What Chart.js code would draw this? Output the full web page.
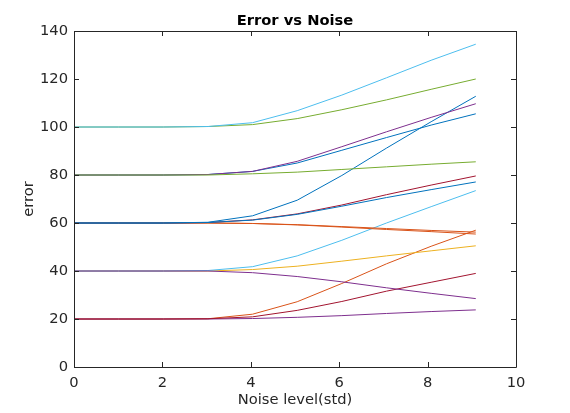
<!DOCTYPE html>
<html>
<head>
<meta charset="utf-8">
<script src="https://cdn.jsdelivr.net/npm/chart.js@4"></script>
<style>
  html, body { margin: 0; padding: 0; background: #fff; }
  #grafico { display: block; }
</style>
</head>
<body>
<canvas id="grafico" width="570" height="413"></canvas>
<script>
// x positions (noise std)
const noiseLevels = [0, 1.01, 2.02, 3.03, 4.04, 5.05, 6.06, 7.07, 8.08, 9.09];

// error curves
const lightBlue100 = [100, 100, 100, 100.2, 101.8, 106.8, 113.3, 120.5, 127.8, 134.5];
const green100     = [100, 100, 100, 100.2, 101, 103.5, 107.2, 111.3, 115.7, 120];
const purple80     = [80, 80, 80, 80.2, 81.5, 85.7, 91.8, 98, 104, 109.7];
const blue80       = [80, 80, 80, 80.2, 81.5, 85, 90.3, 95.6, 100.8, 105.5];
const green80      = [80, 80, 80, 80, 80.5, 81.2, 82.3, 83.4, 84.5, 85.5];
const blueSteep60  = [60, 60, 60, 60.3, 63, 69.5, 79.8, 91.2, 102.2, 112.8];
const darkRed60    = [60, 60, 60, 60.2, 61.3, 63.8, 67.5, 71.8, 75.8, 79.6];
const blue60       = [60, 60, 60, 60.2, 61.2, 63.6, 67, 70.6, 73.9, 77.1];
const orangeA60    = [60, 60, 60, 60, 59.8, 59.3, 58.5, 57.7, 56.9, 56.2];
const orangeB60    = [60, 60, 60, 60, 59.8, 59.2, 58.3, 57.3, 56.4, 55.4];
const lightBlue40  = [40, 40, 40, 40.2, 41.8, 46.3, 52.8, 60, 66.8, 73.5];
const yellow40     = [40, 40, 40, 40, 40.6, 42, 44.1, 46.3, 48.4, 50.5];
const purple40     = [40, 40, 40, 40, 39.3, 37.7, 35.5, 33, 30.7, 28.5];
const orange20     = [20, 20, 20, 20.1, 22, 27.2, 34.8, 43, 50.3, 57];
const darkRed20    = [20, 20, 20, 20.1, 20.9, 23.6, 27.3, 31.6, 35.3, 39];
const purple20     = [20, 20, 20, 20, 20.2, 20.7, 21.4, 22.3, 23.1, 23.8];

const xTicks = [0, 2, 4, 6, 8, 10];
const yTicks = [0, 20, 40, 60, 80, 100, 120, 140];

// cores padrão do matlab
const azul = '#0072BD', laranja = '#D95319', amarelo = '#EDB120', roxo = '#7E2F8E',
      verde = '#77AC30', azulClaro = '#4DBEEE', vinho = '#A2142F';

// first entry ends up on top (chart.js draws index 0 last)
const series = [
  [lightBlue100, azulClaro], [green100, verde],
  [green80, verde], [purple80, roxo], [blue80, azul],
  [blue60, azul], [blueSteep60, azul], [darkRed60, vinho], [orangeA60, laranja], [orangeB60, laranja],
  [purple40, roxo], [lightBlue40, azulClaro], [yellow40, amarelo],
  [darkRed20, vinho], [purple20, roxo], [orange20, laranja]
];

const textColor = '#262626';
const fonte = 'DejaVu Sans';
const tamanho = 14.7;

// box + inward ticks + title, like matlab
const caixaPlugin = {
  id: 'caixa',
  afterDraw(chart) {
    const { ctx, chartArea: a, scales } = chart;
    ctx.save();
    ctx.strokeStyle = textColor;
    ctx.lineWidth = 1;
    ctx.beginPath();
    ctx.rect(Math.round(a.left) + 0.5, Math.round(a.top) + 0.5,
             Math.round(a.right - a.left), Math.round(a.bottom - a.top));
    const len = 5;
    xTicks.forEach(v => {
      const x = Math.round(scales.x.getPixelForValue(v)) + 0.5;
      ctx.moveTo(x, a.bottom); ctx.lineTo(x, a.bottom - len);
      ctx.moveTo(x, a.top); ctx.lineTo(x, a.top + len);
    });
    yTicks.forEach(v => {
      const y = Math.round(scales.y.getPixelForValue(v)) + 0.5;
      ctx.moveTo(a.left, y); ctx.lineTo(a.left + len, y);
      ctx.moveTo(a.right, y); ctx.lineTo(a.right - len, y);
    });
    ctx.stroke();

    // titulo centrado sobre a area do grafico
    ctx.fillStyle = '#000';
    ctx.font = 'bold ' + tamanho + 'px "' + fonte + '"';
    ctx.textAlign = 'center';
    ctx.textBaseline = 'alphabetic';
    ctx.fillText('Error vs Noise', (a.left + a.right) / 2, 24.5);
    ctx.restore();
  }
};

new Chart(document.getElementById('grafico'), {
  type: 'line',
  data: {
    datasets: series.map(([vals, cor]) => ({
      data: noiseLevels.map((x, i) => ({ x, y: vals[i] })),
      borderColor: cor,
      borderWidth: 1,
      pointRadius: 0,
      tension: 0,
      fill: false
    }))
  },
  options: {
    responsive: false,
    animation: false,
    devicePixelRatio: 1,
    layout: { padding: { top: 31, right: 54, bottom: 0, left: 0 } },
    plugins: {
      legend: { display: false },
      tooltip: { enabled: false },
      title: { display: false }
    },
    scales: {
      x: {
        type: 'linear',
        min: 0, max: 10,
        afterFit: s => { s.height = 46; },
        afterBuildTicks: s => { s.ticks = xTicks.map(v => ({ value: v })); },
        grid: { display: false, drawTicks: false },
        border: { display: false },
        ticks: { color: textColor, padding: 7.5, font: { family: fonte, size: tamanho } },
        title: {
          display: true, text: 'Noise level(std)', color: textColor,
          font: { family: fonte, size: tamanho }, padding: { top: 1 }
        }
      },
      y: {
        min: 0, max: 140,
        afterFit: s => { s.width = 74; },
        afterBuildTicks: s => { s.ticks = yTicks.map(v => ({ value: v })); },
        grid: { display: false, drawTicks: false },
        border: { display: false },
        ticks: { color: textColor, padding: 6, font: { family: fonte, size: tamanho } },
        title: {
          display: true, text: 'error', color: textColor,
          font: { family: fonte, size: tamanho }, padding: { top: 20 }
        }
      }
    }
  },
  plugins: [caixaPlugin]
});
</script>
</body>
</html>
